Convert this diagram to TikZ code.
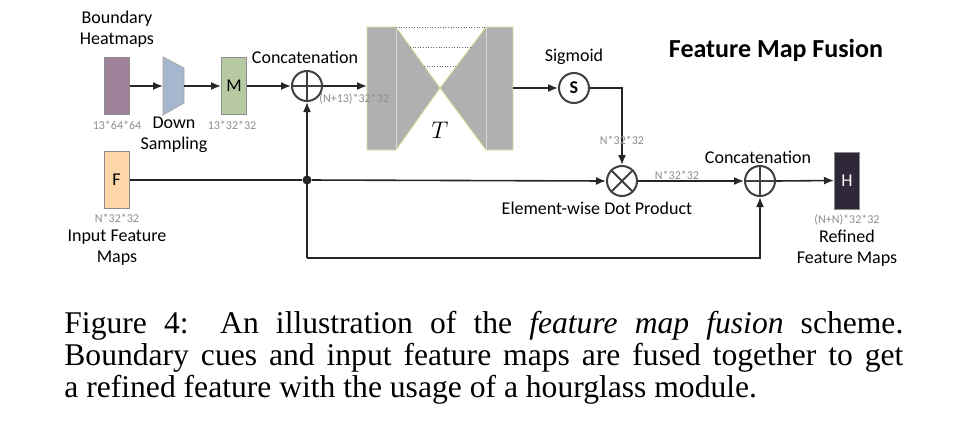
\documentclass[tikz,border=0pt]{standalone}
\usepackage{fontspec}
\setmainfont{Carlito}
\newfontfamily\capfont{Liberation Serif}
\usetikzlibrary{arrows.meta}
\definecolor{heatcol}{HTML}{A0819A}
\definecolor{downcol}{HTML}{A7B6CF}
\definecolor{mcol}{HTML}{B7C9A3}
\definecolor{fcol}{HTML}{FCD5A8}
\definecolor{hcol}{HTML}{2F2838}
\definecolor{hgcol}{HTML}{B0B0B0}
\definecolor{linecol}{HTML}{262626}
\tikzset{
  >={Latex[length=5pt,width=4pt]},
  map/.style={draw=black!45,line width=0.5pt,minimum width=12.5pt,minimum height=28.5pt,inner sep=0pt,font=\fontsize{9}{10}\selectfont},
  op/.style={circle,draw=black!75,line width=1pt,minimum size=15pt,inner sep=0pt},
  dim/.style={text=black!45,font=\fontsize{6}{7}\selectfont,inner sep=0pt},
  lbl/.style={font=\fontsize{9}{10.5}\selectfont,align=center,inner sep=0pt},
  link/.style={line width=0.8pt,draw=linecol}
}
\begin{document}
\begin{tikzpicture}[x=0.5pt,y=-0.5pt]
\useasboundingbox (0,0) rectangle (966,434);
% maps
\node[map,fill=heatcol] (hm) at(116.5,86) {};
\node[map,fill=mcol] (mm) at(234,86) {M};
\node[map,fill=fcol] (fm) at(116.5,180) {F};
\node[map,fill=hcol,text=white] (hh) at(847,180.5) {H};
% down sampling
\draw[fill=downcol,draw=black!35,line width=0.4pt] (163,57) -- (184,68) -- (184,103) -- (163,115) -- cycle;
\coordinate (dsl) at(163,86);
\coordinate (dsr) at(184,86);
% hourglass
\draw[fill=hgcol,draw=hgcol!60!yellow!70!white,line width=0.4pt] (367,27) -- (396,27) -- (440,88) -- (396,150) -- (367,150) -- cycle;
\draw[fill=hgcol,draw=hgcol!60!yellow!70!white,line width=0.4pt] (513,27) -- (486,27) -- (440,88) -- (486,150) -- (513,150) -- cycle;
\draw[black!15,line width=0.3pt] (396,27) -- (396,150) (486,27) -- (486,150);
\draw[densely dotted,black!60,line width=0.3pt] (396,27) -- (486,27) (410,47) -- (470,47) (424,66) -- (456,66);
\node[font=\large] (tt) at(440,130) {$T$};
\coordinate (hgin) at(367,86);
\coordinate (hgout) at(513,88);
% operators
\node[op] (cat1) at(307,86) {};
\draw[black!75,line width=1pt] (cat1.north) -- (cat1.south) (cat1.west) -- (cat1.east);
\node[op] (sg) at(574,88) {\fontsize{9}{10}\selectfont\bfseries S};
\node[op] (mul) at(622,181) {};
\draw[black!75,line width=1pt] (mul.north west) -- (mul.south east) (mul.north east) -- (mul.south west);
\node[op] (cat2) at(760,181) {};
\draw[black!75,line width=1pt] (cat2.north) -- (cat2.south) (cat2.west) -- (cat2.east);
\node[circle,fill=linecol,inner sep=0pt,minimum size=4.5pt] (jn) at(307,180) {};
\coordinate (low) at(307,258);
% connectors
\draw[link,->] (hm.east) -- (dsl);
\draw[link,->] (dsr) -- (mm.west);
\draw[link,->] (mm.east) -- (cat1.west);
\draw[link,->] (cat1.east) -- (hgin);
\draw[link,->] (hgout) -- (sg.west);
\draw[link,->] (sg.east) -| (mul.north);
\draw[link] (fm.east) -- (jn);
\draw[link,->] (jn) -- (mul.west);
\draw[link,->] (low) -- (cat1.south);
\draw[link,->] (low) -| (cat2.south);
\draw[link,->] (mul.east) -- (cat2.west);
\draw[link,->] (cat2.east) -- (hh.west);
% labels
\node[lbl] (hmtxt) at(117,29) {Boundary\\Heatmaps};
\node[dim] (hmdim) at(117,125) {13*64*64};
\node[lbl] (dstxt) at(174,135) {Down\\Sampling};
\node[dim] (mdim) at(232,125) {13*32*32};
\node[lbl] (cat1txt) at(305,57) {Concatenation};
\node[dim,anchor=west] (cat1dim) at(319,99) {(N+13)*32*32};
\node[lbl] (sgtxt) at(574,57) {Sigmoid};
\node[dim] (sgdim) at(622,140) {N*32*32};
\node[lbl,font=\fontsize{13}{15}\selectfont\bfseries] (title) at(776,50) {Feature Map Fusion};
\node[dim] (fdim) at(117,218) {N*32*32};
\node[lbl] (ftxt) at(117,248) {Input Feature\\Maps};
\node[dim] (muldim) at(677,175) {N*32*32};
\node[lbl] (multxt) at(597,208) {Element-wise Dot Product};
\node[lbl] (cat2txt) at(758,157) {Concatenation};
\node[dim] (hdim) at(847,220) {(N+N)*32*32};
\node[lbl] (htxt) at(847,248) {Refined\\Feature Maps};
% caption
\node[anchor=north west,inner sep=0pt,text width=419.5pt,align=justify,font=\capfont\fontsize{15.8}{16}\selectfont] (cap) at(64,311)
  {Figure 4:\quad An illustration of the \emph{feature map fusion} scheme.\linebreak
   Boundary cues and input feature maps are fused together to get\linebreak
   a refined feature with the usage of a hourglass module.};
\end{tikzpicture}
\end{document}
